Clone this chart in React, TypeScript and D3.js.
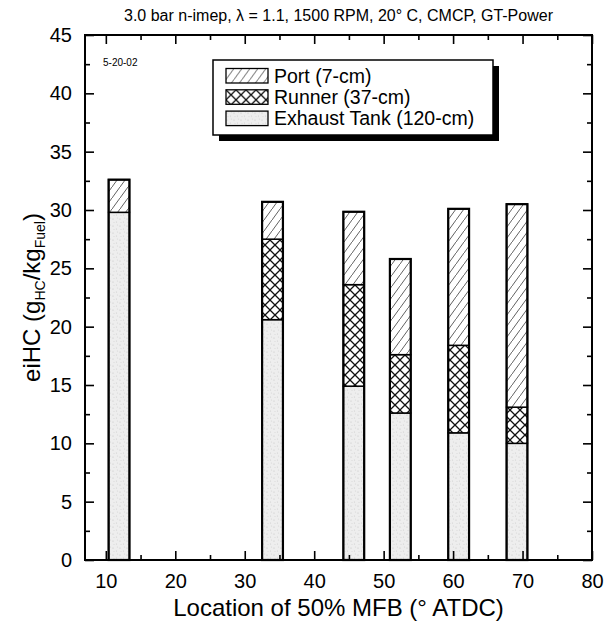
import * as d3 from "d3";
import React, { useEffect, useRef } from "react";

const chartTitle = "3.0 bar n-imep, λ = 1.1, 1500 RPM, 20° C, CMCP, GT-Power";
const dateNote = "5-20-02";

// Location of 50% MFB for each case (° ATDC)
const mfbLocation = [11.9, 34.0, 45.7, 52.4, 60.8, 69.2];
// eiHC contributions, stacked bottom to top
const exhaustTank = [29.8, 20.6, 14.9, 12.6, 10.9, 10.0];
const runner = [0, 6.9, 8.7, 5.0, 7.5, 3.1];
const port = [2.8, 3.2, 6.25, 8.2, 11.7, 17.4];

const seriesKeys = ["exhaust", "runner", "port"];
const legendKeys = ["port", "runner", "exhaust"];
const legendLabels = ["Port (7-cm)", "Runner (37-cm)", "Exhaust Tank (120-cm)"];

const xTicks = [10, 20, 30, 40, 50, 60, 70, 80];
const xMinorTicks = [15, 25, 35, 45, 55, 65, 75];
const yTicks = [0, 5, 10, 15, 20, 25, 30, 35, 40, 45];
const yMinorTicks = [2.5, 7.5, 12.5, 17.5, 22.5, 27.5, 32.5, 37.5, 42.5];

const barWidthUnits = 3;

export default function App() {
  const ref = useRef<SVGSVGElement>(null);
  const width = 606;
  const height = 627;

  useEffect(() => {
    const svg = d3.select(ref.current);
    svg.selectAll("*").remove();

    const margin = { top: 35, right: 14, bottom: 67, left: 85 };
    const font = "'Liberation Sans', Arial, sans-serif";

    const x = d3.scaleLinear([7, 80], [margin.left, width - margin.right]);
    const y = d3.scaleLinear([0, 45], [height - margin.bottom, margin.top]);

    // patterns for the three parts
    const defs = svg.append("defs");
    const hatch = defs
      .append("pattern")
      .attr("id", "hatch")
      .attr("patternUnits", "userSpaceOnUse")
      .attr("width", 8)
      .attr("height", 11);
    hatch.append("rect").attr("width", 8).attr("height", 11).attr("fill", "white");
    hatch
      .append("path")
      .attr("d", "M-1,12.375L9,-1.375")
      .attr("stroke", "#444")
      .attr("stroke-width", 0.85);

    const cross = defs
      .append("pattern")
      .attr("id", "cross")
      .attr("patternUnits", "userSpaceOnUse")
      .attr("width", 10)
      .attr("height", 10);
    cross.append("rect").attr("width", 10).attr("height", 10).attr("fill", "white");
    cross
      .append("path")
      .attr("d", "M-1,-1L11,11M11,-1L-1,11")
      .attr("stroke", "#111")
      .attr("stroke-width", 1.3);

    const stipple = defs
      .append("pattern")
      .attr("id", "stipple")
      .attr("patternUnits", "userSpaceOnUse")
      .attr("width", 7)
      .attr("height", 7);
    stipple.append("rect").attr("width", 7).attr("height", 7).attr("fill", "#eeeeee");
    [
      [1, 2, "#c4c4c4"],
      [4.5, 5, "#cfcfcf"],
      [5.5, 1, "#d6d6d6"],
      [2, 5.5, "#d9d9d9"],
    ].forEach(([cx, cy, c]) =>
      stipple.append("circle").attr("cx", cx).attr("cy", cy).attr("r", 0.6).attr("fill", c as string)
    );
    const fills: Record<string, string> = {
      port: "url(#hatch)",
      runner: "url(#cross)",
      exhaust: "url(#stipple)",
    };

    // stacked bars
    const rows = mfbLocation.map((loc, i) => ({
      loc,
      exhaust: exhaustTank[i],
      runner: runner[i],
      port: port[i],
    }));
    const stacked = d3.stack<any>().keys(seriesKeys)(rows);
    const bw = x(barWidthUnits) - x(0);

    const barG = svg.append("g");
    stacked.forEach((layer) => {
      barG
        .append("g")
        .selectAll("rect")
        .data(layer.filter((d) => d[1] - d[0] > 0))
        .join("rect")
        .attr("x", (d) => x(d.data.loc) - bw / 2)
        .attr("width", bw)
        .attr("y", (d) => y(d[1]))
        .attr("height", (d) => y(d[0]) - y(d[1]))
        .attr("fill", fills[layer.key])
        .attr("stroke", "black")
        .attr("stroke-width", 1.5);
    });
    // heavy outline round each whole bar
    barG
      .append("g")
      .selectAll("rect")
      .data(rows)
      .join("rect")
      .attr("x", (d) => x(d.loc) - bw / 2)
      .attr("width", bw)
      .attr("y", (d) => y(d.exhaust + d.runner + d.port))
      .attr("height", (d) => y(0) - y(d.exhaust + d.runner + d.port))
      .attr("fill", "none")
      .attr("stroke", "black")
      .attr("stroke-width", 2.2);

    // axes with inward ticks on all four sides
    const addAxis = (axis: any, transform: string, labels: boolean) => {
      const g = svg.append("g").attr("transform", transform).call(axis);
      g.select(".domain").remove();
      g.selectAll(".tick line").attr("stroke", "black").attr("stroke-width", 1.6);
      g.selectAll("text")
        .attr("font-family", font)
        .attr("font-size", 20)
        .attr("fill", "black")
        .style("display", labels ? null : "none");
      return g;
    };
    const bottomY = y(0);
    const topY = y(45);
    const leftX = x(7);
    const rightX = x(80);

    addAxis(
      d3.axisBottom(x).tickValues(xTicks).tickSizeInner(-9).tickPadding(14).tickFormat(d3.format("d")),
      `translate(0,${bottomY})`,
      true
    );
    addAxis(d3.axisBottom(x).tickValues(xMinorTicks).tickSizeInner(-5).tickFormat(() => ""), `translate(0,${bottomY})`, false);
    addAxis(d3.axisTop(x).tickValues(xTicks).tickSizeInner(-9), `translate(0,${topY})`, false);
    addAxis(d3.axisTop(x).tickValues(xMinorTicks).tickSizeInner(-5), `translate(0,${topY})`, false);
    addAxis(
      d3.axisLeft(y).tickValues(yTicks).tickSizeInner(-9).tickPadding(13).tickFormat(d3.format("d")),
      `translate(${leftX},0)`,
      true
    );
    addAxis(d3.axisLeft(y).tickValues(yMinorTicks).tickSizeInner(-5), `translate(${leftX},0)`, false);
    addAxis(d3.axisRight(y).tickValues(yTicks).tickSizeInner(-9), `translate(${rightX},0)`, false);
    addAxis(d3.axisRight(y).tickValues(yMinorTicks).tickSizeInner(-5), `translate(${rightX},0)`, false);

    // frame
    svg
      .append("rect")
      .attr("x", leftX)
      .attr("y", topY)
      .attr("width", rightX - leftX)
      .attr("height", bottomY - topY)
      .attr("fill", "none")
      .attr("stroke", "black")
      .attr("stroke-width", 2);

    // legend with drop shadow
    const lg = svg.append("g").attr("transform", "translate(213,60)");
    lg.append("rect").attr("x", 6).attr("y", 6).attr("width", 280).attr("height", 75).attr("fill", "black");
    lg.append("rect")
      .attr("width", 280)
      .attr("height", 75)
      .attr("fill", "white")
      .attr("stroke", "black")
      .attr("stroke-width", 1.5);
    legendKeys.forEach((k, i) => {
      const row = lg.append("g").attr("transform", `translate(13,${8.5 + i * 21.3})`);
      row.append("rect")
        .attr("width", 42)
        .attr("height", 14.5)
        .attr("fill", fills[k])
        .attr("stroke", "black")
        .attr("stroke-width", 1.3);
      row.append("text")
        .attr("x", 48)
        .attr("y", 14)
        .attr("font-family", font)
        .attr("font-size", 19.5)
        .text(legendLabels[i]);
    });

    // small date note
    svg.append("text")
      .attr("x", 103)
      .attr("y", 66)
      .attr("font-family", font)
      .attr("font-size", 10)
      .text(dateNote);

    // title
    svg.append("text")
      .attr("x", (leftX + rightX) / 2)
      .attr("y", 21)
      .attr("text-anchor", "middle")
      .attr("font-family", font)
      .attr("font-size", 16)
      .text(chartTitle);

    // x axis title
    svg.append("text")
      .attr("x", (leftX + rightX) / 2)
      .attr("y", 616)
      .attr("text-anchor", "middle")
      .attr("font-family", font)
      .attr("font-size", 24)
      .text("Location of 50% MFB (° ATDC)");

    // y axis title with subscripts
    const yt = svg
      .append("text")
      .attr("transform", `translate(40,${(topY + bottomY) / 2}) rotate(-90)`)
      .attr("text-anchor", "middle")
      .attr("font-family", font)
      .attr("font-size", 24);
    yt.append("tspan").text("eiHC (g");
    yt.append("tspan").attr("font-size", 14).attr("dy", 5).text("HC");
    yt.append("tspan").attr("dy", -5).text("/kg");
    yt.append("tspan").attr("font-size", 14).attr("dy", 5).text("Fuel");
    yt.append("tspan").attr("dy", -5).text(")");
  }, []);

  return (
    <svg
      ref={ref}
      width={width}
      height={height}
      style={{ position: "absolute", left: 0, top: 0, background: "white" }}
    ></svg>
  );
}
